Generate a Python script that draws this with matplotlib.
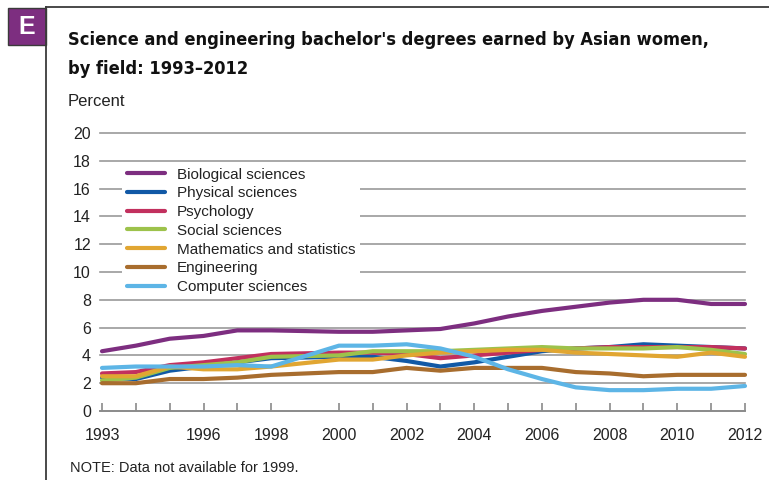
import matplotlib
matplotlib.use("Agg")
import matplotlib.pyplot as plt
from matplotlib import font_manager
from matplotlib.patches import Rectangle
from matplotlib.lines import Line2D

years = [1993, 1994, 1995, 1996, 1997, 1998, 2000, 2001, 2002, 2003,
         2004, 2005, 2006, 2007, 2008, 2009, 2010, 2011, 2012]

biological = [4.3, 4.7, 5.2, 5.4, 5.8, 5.8, 5.7, 5.7, 5.8, 5.9,
              6.3, 6.8, 7.2, 7.5, 7.8, 8.0, 8.0, 7.7, 7.7]
physical = [2.4, 2.3, 2.9, 3.2, 3.5, 3.8, 3.9, 3.9, 3.6, 3.2,
            3.5, 3.9, 4.3, 4.5, 4.6, 4.8, 4.7, 4.6, 4.5]
psychology = [2.7, 2.8, 3.3, 3.5, 3.8, 4.1, 4.2, 4.2, 4.1, 3.8,
              4.0, 4.2, 4.4, 4.5, 4.6, 4.6, 4.6, 4.6, 4.5]
social = [2.2, 2.4, 3.1, 3.3, 3.5, 3.9, 4.0, 4.3, 4.3, 4.3,
          4.4, 4.5, 4.6, 4.5, 4.5, 4.5, 4.6, 4.4, 4.1]
math_stats = [2.5, 2.5, 3.2, 3.0, 3.0, 3.2, 3.7, 3.7, 4.0, 4.2,
              4.3, 4.4, 4.4, 4.2, 4.1, 4.0, 3.9, 4.2, 3.9]
engineering = [2.0, 2.0, 2.3, 2.3, 2.4, 2.6, 2.8, 2.8, 3.1, 2.9,
               3.1, 3.1, 3.1, 2.8, 2.7, 2.5, 2.6, 2.6, 2.6]
computer = [3.1, 3.2, 3.2, 3.2, 3.3, 3.2, 4.7, 4.7, 4.8, 4.5,
            3.9, 3.0, 2.3, 1.7, 1.5, 1.5, 1.6, 1.6, 1.8]

series_names = ["Biological sciences", "Physical sciences", "Psychology",
                "Social sciences", "Mathematics and statistics",
                "Engineering", "Computer sciences"]
series_values = [biological, physical, psychology, social, math_stats,
                 engineering, computer]
colors = ["#7D2E80", "#1159A6", "#C2305E", "#9DC24B", "#E1A632",
          "#A86D2E", "#5DB5E6"]

tick_years = [y for y in range(1993, 2013) if y != 1999]
label_years = [1993, 1996, 1998, 2000, 2002, 2004, 2006, 2008, 2010, 2012]
y_ticks = list(range(0, 21, 2))

avail = {f.name for f in font_manager.fontManager.ttflist}
base_font = "Liberation Sans" if "Liberation Sans" in avail else "DejaVu Sans"
plt.rcParams["font.family"] = [base_font, "DejaVu Sans"]

W, H = 769, 480
fig = plt.figure(figsize=(W / 100, H / 100), dpi=100)

def fx(px):
    return px / W

def fy(py):
    return 1 - py / H

# frame
fig.add_artist(Line2D([fx(46), fx(46)], [fy(480), fy(7)], color="#3a3a3a", lw=1.3))
fig.add_artist(Line2D([fx(46), fx(769)], [fy(7), fy(7)], color="#3a3a3a", lw=1.3))
# E badge
fig.add_artist(Rectangle((fx(8), fy(45)), fx(38), 37 / H, facecolor="#7D2E80",
                         edgecolor="#3a3a3a", lw=1.0))
fig.text(fx(27), fy(26.5), "E", color="white", fontsize=18, fontweight="bold",
         ha="center", va="center", family=[base_font])

# title (condensed bold)
t1 = fig.text(fx(68), fy(45), "Science and engineering bachelor's degrees earned by Asian women,",
              fontsize=15, fontweight="bold", fontstretch="condensed",
              family=["DejaVu Sans"], color="#111111", va="baseline", ha="left")
t2 = fig.text(fx(68), fy(74), "by field: 1993\u20132012",
              fontsize=15, fontweight="bold", fontstretch="condensed",
              family=["DejaVu Sans"], color="#111111", va="baseline", ha="left")
fig.canvas.draw()
r = fig.canvas.get_renderer()
w = t1.get_window_extent(r).width
scale = 640 / w
for t in (t1, t2):
    t.set_fontsize(15 * scale)

fig.text(fx(68), fy(101), "Percent", fontsize=12, color="#222222", va="center", ha="left")

ax = fig.add_axes([fx(102), fy(411), fx(745) - fx(102), (411 - 133) / H])
ax.set_xlim(1993, 2012)
ax.set_ylim(0, 20)
for s in ax.spines.values():
    s.set_visible(False)
for yv in y_ticks[1:]:
    ax.axhline(yv, color="#9a9a9a", lw=1.2, zorder=1, xmin=-0.003, xmax=1.0, clip_on=False)
ax.axhline(0, color="#8a8a8a", lw=1.4, zorder=1, xmin=-0.003, clip_on=False)

ax.set_yticks(y_ticks)
ax.set_yticklabels([str(v) for v in y_ticks])
ax.tick_params(axis="y", length=0, pad=8, labelsize=11.5, labelcolor="#222222")
ax.set_xticks(tick_years)
ax.set_xticklabels([str(y) if y in label_years else "" for y in tick_years])
ax.tick_params(axis="x", direction="in", length=6, width=1.2, color="#8a8a8a",
               pad=12.5, labelsize=11.5, labelcolor="#222222")

handles = []
for name, vals, c in zip(series_names, series_values, colors):
    h, = ax.plot(years, vals, color=c, lw=3.0, solid_capstyle="round",
                 solid_joinstyle="round", clip_on=False, zorder=3, label=name)
    handles.append(h)

leg = ax.legend(handles=handles, loc="upper left", bbox_to_anchor=(fx(122), fy(163)),
                bbox_transform=fig.transFigure, frameon=True, fontsize=11,
                handlelength=2.5, handletextpad=0.8, labelspacing=0.31,
                borderpad=0.3, borderaxespad=0)
leg.get_frame().set_facecolor("white")
leg.get_frame().set_edgecolor("none")
leg.get_frame().set_alpha(1)
leg.set_zorder(5)
for t in leg.get_texts():
    t.set_color("#222222")

fig.text(fx(70), fy(468), "NOTE: Data not available for 1999.", fontsize=10.5,
         color="#222222", va="center", ha="left")

fig.savefig("out.png", dpi=100)
